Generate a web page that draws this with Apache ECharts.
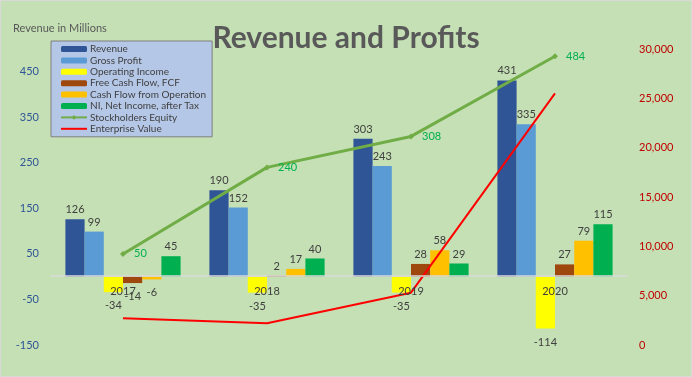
<!DOCTYPE html>
<html>
<head>
<meta charset="utf-8">
<script src="https://cdn.jsdelivr.net/npm/echarts@6/dist/echarts.min.js"></script>
<style>
  html, body { margin: 0; padding: 0; }
  #main { width: 692px; height: 377px; box-sizing: border-box; border: 1px solid #d9d9d9; }
</style>
</head>
<body>
<div id="main"></div>
<script>
// categories and values
var years = ['2017', '2018', '2019', '2020'];
var revenue = [126, 190, 303, 431];
var grossProfit = [99, 152, 243, 335];
var operatingIncome = [-34, -35, -35, -114];
var freeCashFlow = [-14, 2, 28, 27];
var cashFlowOps = [-6, 17, 58, 79];
var netIncome = [45, 40, 29, 115];
var equity = [50, 240, 308, 484];
var enterpriseValue = [2700, 2200, 5300, 25500];

var font = 'Lato';

// label above positive bars, below negative ones
function barData(arr) {
  return arr.map(function (v) {
    return { value: v, label: v < 0 ? { position: 'bottom', distance: 8 } : { position: 'top', distance: 4 } };
  });
}

function bar(name, arr, color) {
  return {
    name: name,
    type: 'bar',
    barGap: 0,
    barCategoryGap: '20%',
    itemStyle: { color: color },
    label: { show: true, color: '#404040', fontSize: 11, fontFamily: font },
    data: barData(arr)
  };
}

var myChart = echarts.init(document.getElementById('main'));
var option = {
  backgroundColor: '#C5E0B4',
  animation: false,
  title: {
    text: 'Revenue and Profits',
    left: 'center',
    top: 17,
    textStyle: { fontSize: 30, fontWeight: 'bold', color: '#595959', fontFamily: font }
  },
  graphic: [{
    type: 'text', left: 12, top: 22,
    style: { text: 'Revenue in Millions', fontSize: 11, fill: '#595959', fontFamily: font }
  }],
  legend: {
    orient: 'vertical',
    left: 50,
    top: 40,
    padding: [3, 6, 3, 9],
    itemGap: 1.4,
    itemWidth: 26,
    itemHeight: 6,
    backgroundColor: '#B4C7E7',
    borderColor: '#7F7F7F',
    borderWidth: 1,
    textStyle: { fontSize: 10, color: '#404040', fontFamily: font, padding: [0, 0, 0, -2] },
    data: ['Revenue', 'Gross Profit', 'Operating Income', 'Free Cash Flow, FCF',
      'Cash Flow from Operation', 'NI, Net Income, after Tax', 'Stockholders Equity',
      { name: 'Enterprise Value', itemStyle: { opacity: 0 } }]
  },
  grid: { left: 50, right: 64, top: 48, bottom: 31 },
  xAxis: {
    type: 'category',
    data: years,
    z: 10,
    // category axis sits on the zero line of the left axis
    offset: -69,
    axisLine: { onZero: false, lineStyle: { color: '#D9D9D9', width: 1.5 } },
    axisTick: { show: false },
    axisLabel: { color: '#404040', fontSize: 11, fontFamily: font, margin: 10 }
  },
  yAxis: [{
    type: 'value',
    min: -150,
    max: 500,
    interval: 100,
    splitLine: { show: false },
    axisLine: { show: false },
    axisLabel: {
      color: '#2F5597', fontSize: 11, fontFamily: font, margin: 12,
      formatter: function (v) { return v === 500 ? '' : v; }
    }
  }, {
    type: 'value',
    min: 0,
    max: 30000,
    interval: 5000,
    splitLine: { show: false },
    axisLine: { show: false },
    axisLabel: {
      color: '#C00000', fontSize: 11, fontFamily: font, margin: 12,
      formatter: function (v) { return v.toLocaleString('en-US'); }
    }
  }],
  series: [
    bar('Revenue', revenue, '#2F5597'),
    bar('Gross Profit', grossProfit, '#5B9BD5'),
    bar('Operating Income', operatingIncome, '#FFFF00'),
    bar('Free Cash Flow, FCF', freeCashFlow, '#9E480E'),
    bar('Cash Flow from Operation', cashFlowOps, '#FFC000'),
    bar('NI, Net Income, after Tax', netIncome, '#00B050'),
    {
      name: 'Stockholders Equity',
      type: 'line',
      z: 5,
      data: equity,
      symbol: 'diamond',
      symbolSize: 6,
      lineStyle: { color: '#70AD47', width: 3 },
      itemStyle: { color: '#70AD47' },
      label: { show: true, position: 'right', distance: 8, color: '#00B050', fontSize: 11, fontFamily: font }
    },
    {
      name: 'Enterprise Value',
      type: 'line',
      z: 5,
      yAxisIndex: 1,
      data: enterpriseValue,
      symbol: 'none',
      lineStyle: { color: '#FF0000', width: 2 },
      itemStyle: { color: '#FF0000' }
    }
  ]
};
myChart.setOption(option);
</script>
</body>
</html>
